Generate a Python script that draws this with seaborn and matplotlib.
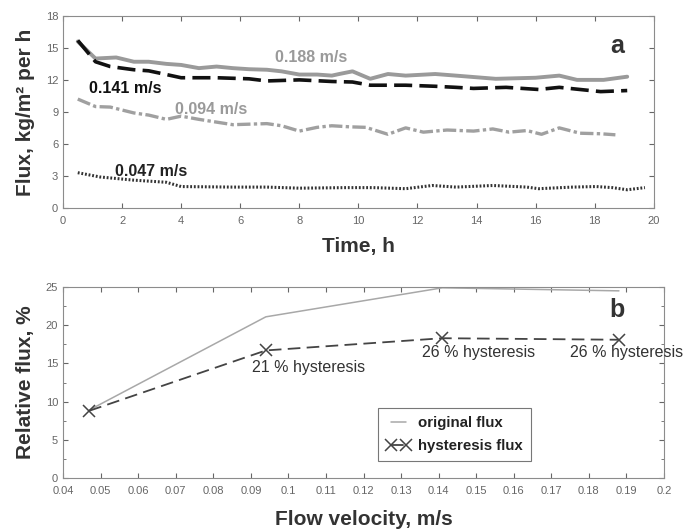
import numpy as np
import matplotlib
matplotlib.use('Agg')
import matplotlib.pyplot as plt
import seaborn as sns

# Panel a: flux over time for four flow velocities
t_188 = [0.5, 1.1, 1.8, 2.4, 2.9, 3.5, 4.0, 4.6, 5.2, 5.75, 6.3, 6.9, 7.4, 8.0, 8.6, 9.1,
         9.35, 9.8, 10.4, 11.0, 11.6, 12.6, 13.3, 14.65, 16.0, 16.8, 17.4, 18.3, 19.1]
f_188 = [15.6, 14.0, 14.1, 13.7, 13.7, 13.5, 13.4, 13.1, 13.25, 13.1, 13.0, 12.95, 12.8, 12.5, 12.5, 12.4,
         12.55, 12.8, 12.1, 12.55, 12.4, 12.55, 12.4, 12.1, 12.2, 12.4, 12.0, 12.0, 12.3]

t_141 = [0.5, 1.1, 1.6, 2.4, 2.9, 3.5, 4.0, 5.2, 6.3, 6.9, 8.0, 9.1, 9.8, 10.4, 11.6, 12.6,
         13.3, 13.9, 15.0, 16.1, 16.8, 17.5, 18.2, 19.1]
f_141 = [15.7, 13.7, 13.25, 12.95, 12.85, 12.5, 12.2, 12.2, 12.1, 11.9, 12.0, 11.85, 11.8, 11.5, 11.5, 11.4,
         11.3, 11.2, 11.3, 11.1, 11.3, 11.1, 10.9, 11.0]

t_094 = [0.5, 1.1, 1.6, 2.4, 2.9, 3.5, 4.0, 4.6, 5.75, 6.9, 7.4, 8.0, 8.6, 9.1, 9.7, 10.25,
         11.0, 11.6, 12.2, 13.0, 13.9, 14.55, 15.1, 15.7, 16.2, 16.8, 17.5, 18.2, 18.7]
f_094 = [10.2, 9.5, 9.45, 8.9, 8.7, 8.3, 8.6, 8.3, 7.8, 7.9, 7.7, 7.2, 7.55, 7.7, 7.6, 7.55,
         6.9, 7.5, 7.1, 7.3, 7.2, 7.4, 7.1, 7.25, 6.9, 7.5, 7.0, 6.95, 6.85]

t_047 = [0.5, 1.25, 2.4, 3.5, 4.0, 5.75, 6.9, 8.0, 9.6, 10.5, 11.6, 12.5, 13.3, 14.55, 15.7, 16.1,
         17.25, 18.05, 18.6, 19.1, 19.7]
f_047 = [3.3, 2.9, 2.6, 2.4, 2.0, 1.95, 1.95, 1.85, 1.9, 1.9, 1.8, 2.1, 1.95, 2.1, 1.95, 1.8,
         1.95, 2.0, 1.9, 1.7, 1.9]

# Panel b: relative flux vs flow velocity
velocity = [0.047, 0.094, 0.141, 0.188]
original_flux = [8.9, 21.1, 24.9, 24.5]
hysteresis_flux = [8.8, 16.7, 18.3, 18.1]
hysteresis_labels = ['21 % hysteresis', '26 % hysteresis', '26 % hysteresis']
label_x = [0.0903, 0.1356, 0.175]
label_y = [14.5, 16.4, 16.4]

sns.set_style('ticks')
plt.rcParams.update({
    'font.family': ['Liberation Sans', 'DejaVu Sans'],
    'xtick.direction': 'in', 'ytick.direction': 'in',
    'xtick.top': True, 'ytick.right': True,
    'xtick.color': '#666666', 'ytick.color': '#666666',
    'xtick.labelsize': 8, 'ytick.labelsize': 8,
    'axes.edgecolor': '#8c8c8c', 'axes.linewidth': 0.8,
})

fig = plt.figure(figsize=(7, 5.29), dpi=100)
ax1 = fig.add_axes([0.09, 0.607, 0.844, 0.363])
ax2 = fig.add_axes([0.09, 0.0964, 0.8586, 0.361])

sns.lineplot(x=t_188, y=f_188, ax=ax1, color='#9a9a9a', lw=2.8)
sns.lineplot(x=t_141, y=f_141, ax=ax1, color='#111111', lw=2.6, linestyle=(0, (5, 2)))
sns.lineplot(x=t_094, y=f_094, ax=ax1, color='#a0a0a0', lw=2.4, linestyle=(0, (4, 1, 1, 1)))
sns.lineplot(x=t_047, y=f_047, ax=ax1, color='#333333', lw=2.2, linestyle=(0, (0.6, 0.6)))

ax1.set_xlim(0, 20)
ax1.set_ylim(0, 18)
ax1.set_xticks(np.arange(0, 21, 2))
ax1.set_yticks(np.arange(0, 19, 3))
ax1.tick_params(axis='x', pad=6)
ax1.set_xlabel('Time, h', fontsize=15, fontweight='bold', color='#333333', labelpad=8)
ax1.set_ylabel('Flux, kg/m² per h', fontsize=15, fontweight='bold', color='#333333', labelpad=8)

lbl = dict(fontsize=11.5, fontweight='bold', ha='center', va='center')
ax1.text(8.4, 14.1, '0.188 m/s', color='#9a9a9a', **lbl)
ax1.text(2.1, 11.2, '0.141 m/s', color='#111111', **lbl)
ax1.text(5.0, 9.2, '0.094 m/s', color='#9a9a9a', **lbl)
ax1.text(3.0, 3.4, '0.047 m/s', color='#222222', **lbl)
ax1.text(18.75, 15.2, 'a', fontsize=18, fontweight='bold', color='#333333', ha='center', va='center')

sns.lineplot(x=velocity, y=original_flux, ax=ax2, color='#a8a8a8', lw=1.1, label='original flux')
sns.lineplot(x=velocity, y=hysteresis_flux, ax=ax2, color='#444444', lw=1.3, marker='x',
             markersize=8, markeredgewidth=1.1, markeredgecolor='#444444',
             linestyle=(0, (7, 3.5)), label='hysteresis flux')
for lx, ly, s in zip(label_x, label_y, hysteresis_labels):
    ax2.text(lx, ly, s, fontsize=11.5, color='#333333', ha='left', va='center')

ax2.set_xlim(0.04, 0.2)
ax2.set_ylim(0, 25)
ax2.set_xticks(np.round(np.arange(0.04, 0.201, 0.01), 2))
ax2.set_xticklabels(['0.04', '0.05', '0.06', '0.07', '0.08', '0.09', '0.1', '0.11', '0.12',
                     '0.13', '0.14', '0.15', '0.16', '0.17', '0.18', '0.19', '0.2'])
ax2.set_yticks(np.arange(0, 26, 5))
ax2.set_yticks(np.arange(0, 26, 2.5), minor=True)
ax2.tick_params(which='minor', direction='in', length=2.5, top=False, right=True, left=True)
ax2.tick_params(axis='x', pad=6)
ax2.set_xlabel('Flow velocity, m/s', fontsize=15, fontweight='bold', color='#333333', labelpad=10)
ax2.set_ylabel('Relative flux, %', fontsize=15, fontweight='bold', color='#333333', labelpad=8)
ax2.text(0.1876, 22.0, 'b', fontsize=18, fontweight='bold', color='#333333', ha='center', va='center')

leg = ax2.legend(loc='lower left', bbox_to_anchor=(0.524, 0.089), fancybox=False, numpoints=2,
                 prop={'weight': 'bold', 'size': 10.8}, handlelength=1.6, borderpad=0.55,
                 labelspacing=0.6, handletextpad=0.5, borderaxespad=0)
leg.get_frame().set_edgecolor('#555555')
leg.get_frame().set_linewidth(0.8)
for t in leg.get_texts():
    t.set_color('#222222')

fig.savefig('out.png', dpi=100)
